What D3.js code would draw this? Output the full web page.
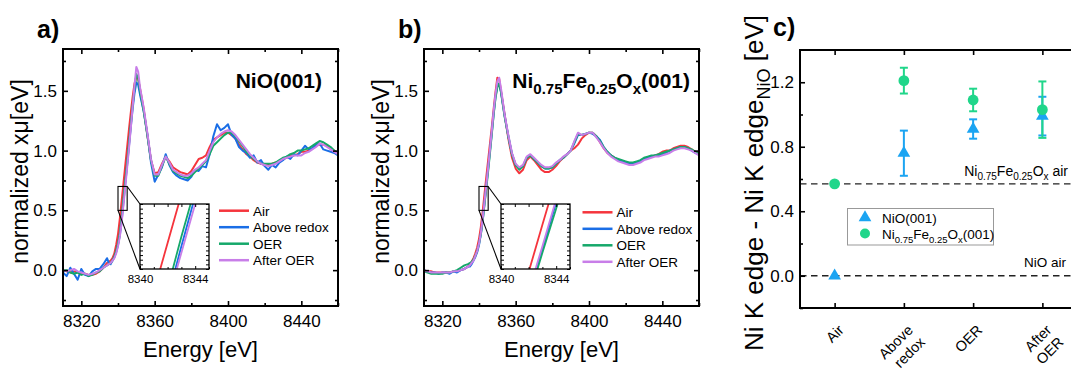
<!DOCTYPE html>
<html>
<head>
<meta charset="utf-8">
<script src="https://cdn.jsdelivr.net/npm/d3@7"></script>
<style>
  body { margin: 0; background: #fff; }
  svg { display: block; }
  text { font-family: "Liberation Sans", Arial, Helvetica, sans-serif; fill: #000; }
</style>
</head>
<body>
<svg id="chart" width="1071" height="368"></svg>
<script>
// ---------- Ni K-edge XANES: shared energy grid (eV) ----------
const energy = [
  8310, 8312, 8314, 8316, 8318, 8320, 8322, 8324, 8326, 8328, 8330, 8332, 8334,
  8335, 8336, 8337, 8338, 8339, 8340, 8341, 8342, 8343, 8344, 8345, 8346, 8347, 8348, 8349, 8350, 8351, 8352,
  8354, 8356, 8358, 8360, 8362, 8364, 8366, 8368, 8370, 8372,
  8374, 8376, 8378, 8380, 8382, 8384, 8386, 8388, 8390, 8392,
  8394, 8396, 8398, 8400, 8402, 8404, 8406, 8408, 8410, 8412,
  8414, 8416, 8418, 8420, 8422, 8424, 8426, 8428, 8430, 8432,
  8434, 8436, 8438, 8440, 8442, 8444, 8446, 8448, 8450, 8452,
  8454, 8456, 8458, 8460
];

const conditionNames = ["Air", "Above redox", "OER", "After OER"];
const conditionColors = ["#f5343c", "#1a6ee6", "#15a86a", "#c87ee8"];

// NiO(001) normalized absorption
const nioAir = [
  0.00, -0.01, -0.02, -0.01, -0.02, -0.03, -0.03, -0.04, -0.04, -0.03, -0.01, 0.02, 0.06,
  0.07, 0.08, 0.10, 0.14, 0.21, 0.30, 0.43, 0.58, 0.73, 0.88, 1.03, 1.18, 1.32, 1.45, 1.56, 1.62, 1.60, 1.52,
  1.35, 1.13, 0.92, 0.81, 0.82, 0.89, 0.95, 0.91, 0.86, 0.84,
  0.82, 0.81, 0.80, 0.83, 0.88, 0.93, 0.94, 0.96, 1.03, 1.09,
  1.11, 1.13, 1.15, 1.15, 1.13, 1.10, 1.05, 1.01, 0.97, 0.95,
  0.92, 0.90, 0.89, 0.88, 0.88, 0.89, 0.90, 0.91, 0.93, 0.94,
  0.96, 0.96, 0.97, 0.99, 0.99, 1.00, 1.02, 1.04, 1.05, 1.05,
  1.04, 1.02, 1.00, 0.97
];
const nioAboveRedox = [
  -0.02, -0.05, 0.02, -0.03, -0.08, 0.01, -0.04, -0.05, -0.01, 0.01, 0.01, 0.05, 0.10,
  0.06, 0.05, 0.08, 0.11, 0.15, 0.21, 0.29, 0.41, 0.57, 0.725, 0.88, 1.04, 1.20, 1.35, 1.48, 1.57, 1.55, 1.47,
  1.33, 1.14, 0.90, 0.74, 0.80, 0.86, 0.97, 0.88, 0.82, 0.79,
  0.77, 0.76, 0.75, 0.78, 0.84, 0.83, 0.87, 0.86, 0.97, 1.12,
  1.22, 1.17, 1.19, 1.22, 1.13, 1.10, 1.03, 1.00, 0.98, 0.94,
  0.96, 0.90, 0.92, 0.87, 0.84, 0.88, 0.86, 0.90, 0.92, 0.95,
  0.93, 0.97, 0.96, 1.00, 1.04, 1.01, 1.02, 1.05, 1.06, 1.01,
  1.00, 0.99, 0.98, 0.96
];
const nioOER = [
  0.00, 0.00, -0.02, -0.03, -0.02, -0.04, -0.03, -0.05, -0.04, -0.02, -0.01, 0.02, 0.04,
  0.05, 0.06, 0.08, 0.11, 0.16, 0.22, 0.31, 0.44, 0.60, 0.75, 0.90, 1.06, 1.22, 1.38, 1.52, 1.64, 1.61, 1.50,
  1.33, 1.13, 0.92, 0.79, 0.79, 0.87, 0.95, 0.89, 0.83, 0.81,
  0.79, 0.78, 0.77, 0.79, 0.82, 0.85, 0.88, 0.91, 0.97, 1.04,
  1.07, 1.10, 1.13, 1.15, 1.15, 1.12, 1.08, 1.04, 0.99, 0.96,
  0.93, 0.91, 0.89, 0.89, 0.89, 0.89, 0.90, 0.92, 0.94, 0.95,
  0.97, 0.98, 1.00, 1.00, 1.01, 1.02, 1.04, 1.06, 1.08, 1.07,
  1.05, 1.03, 1.00, 0.97
];
const nioAfterOER = [
  0.00, -0.01, 0.00, 0.01, -0.01, -0.02, -0.03, -0.04, -0.03, -0.02, 0.00, 0.02, 0.04,
  0.05, 0.06, 0.08, 0.10, 0.14, 0.20, 0.28, 0.40, 0.55, 0.70, 0.86, 1.02, 1.19, 1.37, 1.54, 1.70, 1.66, 1.53,
  1.36, 1.15, 0.93, 0.80, 0.80, 0.88, 0.95, 0.90, 0.84, 0.82,
  0.80, 0.79, 0.79, 0.81, 0.84, 0.86, 0.89, 0.92, 1.00, 1.07,
  1.11, 1.14, 1.16, 1.17, 1.16, 1.13, 1.09, 1.05, 1.01, 0.97,
  0.94, 0.91, 0.89, 0.88, 0.87, 0.88, 0.89, 0.91, 0.93, 0.94,
  0.95, 0.96, 0.96, 0.96, 0.98, 0.99, 1.01, 1.03, 1.06, 1.05,
  1.03, 1.01, 0.99, 0.97
];

// Ni0.75Fe0.25Ox(001) normalized absorption
const nifeAir = [
  0.00, -0.01, -0.01, -0.02, -0.02, -0.02, -0.02, -0.02, -0.01, -0.01, 0.00, 0.01, 0.03,
  0.05, 0.07, 0.10, 0.14, 0.19, 0.26, 0.36, 0.49, 0.636, 0.78, 0.92, 1.06, 1.20, 1.35, 1.49, 1.61, 1.60, 1.50,
  1.30, 1.10, 0.94, 0.85, 0.81, 0.84, 0.92, 0.95, 0.92, 0.88,
  0.84, 0.82, 0.82, 0.84, 0.87, 0.91, 0.94, 0.97, 1.00, 1.02,
  1.05, 1.10, 1.13, 1.15, 1.15, 1.12, 1.07, 1.02, 0.98, 0.96,
  0.94, 0.92, 0.91, 0.90, 0.89, 0.89, 0.90, 0.91, 0.93, 0.94,
  0.95, 0.96, 0.97, 0.99, 1.00, 1.00, 1.02, 1.03, 1.04, 1.04,
  1.03, 1.01, 0.99, 0.98
];
const nifeAboveRedox = [
  0.00, -0.01, -0.02, -0.02, -0.03, -0.02, -0.02, -0.03, -0.01, -0.02, 0.00, 0.01, 0.03,
  0.03, 0.05, 0.08, 0.11, 0.15, 0.21, 0.30, 0.41, 0.56, 0.705, 0.85, 1.00, 1.15, 1.31, 1.45, 1.54, 1.56, 1.49,
  1.29, 1.12, 0.97, 0.88, 0.85, 0.87, 0.94, 0.96, 0.93, 0.90,
  0.87, 0.85, 0.85, 0.86, 0.89, 0.92, 0.94, 0.97, 1.00, 1.06,
  1.13, 1.13, 1.14, 1.15, 1.14, 1.12, 1.09, 1.03, 0.99, 0.96,
  0.94, 0.92, 0.91, 0.90, 0.89, 0.89, 0.90, 0.91, 0.93, 0.94,
  0.95, 0.96, 0.96, 0.97, 0.98, 1.00, 1.01, 1.02, 1.03, 1.03,
  1.02, 1.00, 0.98, 0.97
];
const nifeOER = [
  -0.01, -0.02, -0.03, -0.03, -0.03, -0.03, -0.02, -0.02, -0.01, 0.00, 0.02, 0.04, 0.05,
  0.06, 0.07, 0.09, 0.12, 0.16, 0.22, 0.30, 0.41, 0.55, 0.686, 0.83, 0.98, 1.14, 1.30, 1.44, 1.53, 1.56, 1.49,
  1.28, 1.12, 0.97, 0.88, 0.84, 0.87, 0.94, 0.96, 0.93, 0.90,
  0.87, 0.85, 0.85, 0.86, 0.89, 0.92, 0.94, 0.97, 1.00, 1.07,
  1.14, 1.13, 1.14, 1.15, 1.15, 1.12, 1.08, 1.03, 0.99, 0.96,
  0.94, 0.93, 0.92, 0.91, 0.90, 0.90, 0.91, 0.92, 0.94, 0.95,
  0.96, 0.96, 0.97, 0.98, 0.99, 1.00, 1.01, 1.02, 1.03, 1.03,
  1.02, 1.01, 0.99, 0.97
];
const nifeAfterOER = [
  -0.01, -0.01, -0.02, -0.02, -0.02, -0.02, -0.02, -0.02, -0.01, -0.01, 0.00, 0.01, 0.03,
  0.04, 0.06, 0.08, 0.12, 0.16, 0.22, 0.31, 0.43, 0.57, 0.715, 0.86, 1.01, 1.17, 1.33, 1.47, 1.58, 1.61, 1.52,
  1.30, 1.13, 0.98, 0.89, 0.86, 0.88, 0.95, 0.97, 0.94, 0.91,
  0.88, 0.86, 0.86, 0.87, 0.90, 0.92, 0.95, 0.97, 1.00, 1.08,
  1.15, 1.13, 1.14, 1.15, 1.15, 1.11, 1.07, 1.02, 0.98, 0.95,
  0.93, 0.91, 0.90, 0.89, 0.88, 0.88, 0.89, 0.90, 0.92, 0.93,
  0.94, 0.95, 0.95, 0.96, 0.97, 0.98, 1.00, 1.01, 1.02, 1.02,
  1.01, 1.00, 0.98, 0.96
];

// Axis ticks for the spectra
const energyMajorTicks = [8320, 8360, 8400, 8440];
const energyMinorTicks = [8340, 8380, 8420, 8460];
const muMajorTicks = [0.0, 0.5, 1.0, 1.5];
const muMinorTicks = [-0.25, 0.25, 0.75, 1.25, 1.75];
const insetEnergyLabels = [8340, 8344];

// ---------- Edge shift summary ----------
const conditionLabels = [["Air"], ["Above", "redox"], ["OER"], ["After", "OER"]];
const nioShift = [0.00, 0.76, 0.91, 0.99];
const nioShiftErr = [0.00, 0.14, 0.06, 0.12];
const nifeShift = [0.57, 1.21, 1.09, 1.03];
const nifeShiftErr = [0.00, 0.08, 0.07, 0.175];
const shiftMajorTicks = [0.0, 0.4, 0.8, 1.2];
const shiftMinorTicks = [-0.2, 0.2, 0.6, 1.0];
const nioAirLevel = 0.0;
const nifeAirLevel = 0.57;

const nioColor = "#1ba4f2";
const nifeColor = "#20d68a";

const svg = d3.select("#chart");
const FONT = '"Liberation Sans", Arial, Helvetica, sans-serif';

// Text built from normal / subscript runs
function richText(sel, parts, size, subSize, shift) {
  parts.forEach((p, i) => {
    const prevSub = i > 0 && parts[i - 1].sub;
    let dy = 0;
    if (p.sub && !prevSub) dy = shift;
    if (!p.sub && prevSub) dy = -shift;
    sel.append("tspan")
      .attr("dy", dy)
      .attr("font-size", p.sub ? subSize : size)
      .text(p.t);
  });
  return sel;
}

// ---------- spectra panel ----------
function spectraPanel(opt) {
  const left = opt.left, right = left + 275, top = 49, bottom = 306;
  const x = d3.scaleLinear().domain([8310, 8460]).range([left, right]);
  const y = d3.scaleLinear().domain([-0.3, 1.85]).range([bottom, top]);
  const g = svg.append("g");
  const clipId = "clip-" + opt.id;
  svg.append("clipPath").attr("id", clipId)
    .append("rect").attr("x", left).attr("y", top).attr("width", right - left).attr("height", bottom - top);

  const line = d3.line().x((d, i) => x(energy[i])).y(d => y(d));
  const curves = g.append("g").attr("clip-path", `url(#${clipId})`);
  opt.series.forEach((vals, k) => {
    curves.append("path")
      .attr("d", line(vals))
      .attr("fill", "none")
      .attr("stroke", conditionColors[k])
      .attr("stroke-width", 2)
      .attr("stroke-linejoin", "round");
  });

  // axes (ticks point inward, mirrored on top/right)
  g.append("g").attr("transform", `translate(0,${bottom})`)
    .call(d3.axisBottom(x).tickValues(energyMajorTicks).tickSize(-5).tickPadding(9).tickFormat(d3.format("d")));
  g.append("g").attr("transform", `translate(0,${bottom})`)
    .call(d3.axisBottom(x).tickValues(energyMinorTicks).tickSize(-3).tickFormat(""));
  g.append("g").attr("transform", `translate(0,${top})`)
    .call(d3.axisTop(x).tickValues(energyMajorTicks).tickSize(-5).tickFormat(""));
  g.append("g").attr("transform", `translate(0,${top})`)
    .call(d3.axisTop(x).tickValues(energyMinorTicks).tickSize(-3).tickFormat(""));
  g.append("g").attr("transform", `translate(${left},0)`)
    .call(d3.axisLeft(y).tickValues(muMajorTicks).tickSize(-5).tickPadding(6).tickFormat(d3.format(".1f")));
  g.append("g").attr("transform", `translate(${left},0)`)
    .call(d3.axisLeft(y).tickValues(muMinorTicks).tickSize(-3).tickFormat(""));
  g.append("g").attr("transform", `translate(${right},0)`)
    .call(d3.axisRight(y).tickValues(muMajorTicks).tickSize(-5).tickFormat(""));
  g.append("g").attr("transform", `translate(${right},0)`)
    .call(d3.axisRight(y).tickValues(muMinorTicks).tickSize(-3).tickFormat(""));
  g.selectAll(".domain").remove();
  g.selectAll(".tick line").attr("stroke", "#000").attr("stroke-width", 1.6);
  g.selectAll(".tick text").attr("font-size", 17).attr("font-family", FONT).attr("fill", "#000");

  g.append("rect").attr("x", left).attr("y", top).attr("width", right - left).attr("height", bottom - top)
    .attr("fill", "none").attr("stroke", "#000").attr("stroke-width", 2);

  // axis titles
  g.append("text").attr("x", (left + right) / 2).attr("y", 357).attr("text-anchor", "middle")
    .attr("font-size", 22).text("Energy [eV]");
  g.append("text").attr("transform", `translate(${left - 35},${(top + bottom) / 2 - 6}) rotate(-90)`)
    .attr("text-anchor", "middle").attr("font-size", 23).text("normalized xμ[eV]");

  // panel letter & sample name
  g.append("text").attr("x", left - 26).attr("y", 38).attr("font-size", 25).attr("font-weight", "bold").text(opt.letter);
  richText(g.append("text").attr("x", opt.titleRight).attr("y", 88).attr("text-anchor", "end")
    .attr("font-weight", "bold"), opt.title, 21, 15, 6);

  // zoom window on the absorption edge
  const ix0 = left + 77, iw = 69, iy0 = 204, ih = 65;
  const xi = d3.scaleLinear().domain([8340, 8345]).range([ix0, ix0 + iw]);
  const yi = d3.scaleLinear().domain([0.5, 0.7]).range([iy0 + ih, iy0]);
  g.append("rect").attr("x", x(8340)).attr("y", y(0.7)).attr("width", x(8345) - x(8340)).attr("height", y(0.5) - y(0.7))
    .attr("fill", "none").attr("stroke", "#000").attr("stroke-width", 1.1);
  g.append("line").attr("x1", x(8345)).attr("y1", y(0.7)).attr("x2", ix0).attr("y2", iy0)
    .attr("stroke", "#000").attr("stroke-width", 1.1);
  g.append("line").attr("x1", x(8340)).attr("y1", y(0.5)).attr("x2", ix0).attr("y2", iy0 + ih)
    .attr("stroke", "#000").attr("stroke-width", 1.1);
  g.append("rect").attr("x", ix0).attr("y", iy0).attr("width", iw).attr("height", ih).attr("fill", "#fff");
  const iclip = "iclip-" + opt.id;
  svg.append("clipPath").attr("id", iclip)
    .append("rect").attr("x", ix0).attr("y", iy0).attr("width", iw).attr("height", ih);
  const iline = d3.line().x((d, i) => xi(energy[i])).y(d => yi(d));
  const icurves = g.append("g").attr("clip-path", `url(#${iclip})`);
  opt.series.forEach((vals, k) => {
    icurves.append("path").attr("d", iline(vals)).attr("fill", "none")
      .attr("stroke", conditionColors[k]).attr("stroke-width", 1.8);
  });
  const ig = g.append("g");
  ig.append("g").attr("transform", `translate(0,${iy0 + ih})`)
    .call(d3.axisBottom(xi).tickValues(insetEnergyLabels).tickSize(-3).tickPadding(6).tickFormat(d3.format("d")));
  ig.append("g").attr("transform", `translate(0,${iy0 + ih})`)
    .call(d3.axisBottom(xi).tickValues([8341, 8342, 8343, 8345]).tickSize(-2).tickFormat(""));
  ig.append("g").attr("transform", `translate(0,${iy0})`)
    .call(d3.axisTop(xi).tickValues([8341, 8342, 8343, 8344]).tickSize(-3).tickFormat(""));
  const yTicksInset = d3.range(0, 15).map(i => 0.5 + i * 0.2 / 14);
  ig.append("g").attr("transform", `translate(${ix0},0)`)
    .call(d3.axisLeft(yi).tickValues(yTicksInset).tickSize(-3).tickFormat(""));
  ig.append("g").attr("transform", `translate(${ix0 + iw},0)`)
    .call(d3.axisRight(yi).tickValues(yTicksInset).tickSize(-3).tickFormat(""));
  ig.selectAll(".domain").remove();
  ig.selectAll(".tick line").attr("stroke", "#000").attr("stroke-width", 1);
  ig.selectAll(".tick text").attr("font-size", 11.5).attr("font-family", FONT).attr("fill", "#000");
  g.append("rect").attr("x", ix0).attr("y", iy0).attr("width", iw).attr("height", ih)
    .attr("fill", "none").attr("stroke", "#000").attr("stroke-width", 1.3);

  // legend
  conditionNames.forEach((name, k) => {
    const ly = opt.legendTop + k * 16.5;
    g.append("line").attr("x1", left + opt.legendX).attr("x2", left + opt.legendX + 30)
      .attr("y1", ly).attr("y2", ly).attr("stroke", conditionColors[k]).attr("stroke-width", 2.5);
    g.append("text").attr("x", left + opt.legendX + 34).attr("y", ly + 5).attr("font-size", 13.5).text(name);
  });
}

spectraPanel({
  id: "a", left: 63, letter: "a)", titleRight: 322, legendX: 156, legendTop: 210.7,
  title: [{ t: "NiO(001)" }],
  series: [nioAir, nioAboveRedox, nioOER, nioAfterOER]
});
spectraPanel({
  id: "b", left: 424, letter: "b)", titleRight: 690, legendX: 158.5, legendTop: 212.3,
  title: [{ t: "Ni" }, { t: "0.75", sub: true }, { t: "Fe" }, { t: "0.25", sub: true }, { t: "O" }, { t: "x", sub: true }, { t: "(001)" }],
  series: [nifeAir, nifeAboveRedox, nifeOER, nifeAfterOER]
});

// ---------- edge shift panel ----------
(function shiftPanel() {
  const left = 800, right = 1077, top = 50, bottom = 308;
  const x = d3.scaleLinear().domain([0.5, 4.5]).range([left, right]);
  const y = d3.scaleLinear().domain([-0.2, 1.4]).range([bottom, top]);
  const g = svg.append("g");
  const pos = conditionNames.map((d, i) => i + 1);

  // reference levels
  [nioAirLevel, nifeAirLevel].forEach(v => {
    g.append("line").attr("x1", left).attr("x2", 1071).attr("y1", y(v)).attr("y2", y(v))
      .attr("stroke", "#222").attr("stroke-width", 1.4).attr("stroke-dasharray", "6.5,4.5");
  });
  richText(g.append("text").attr("x", 1068).attr("y", y(nifeAirLevel) - 8).attr("text-anchor", "end"),
    [{ t: "Ni" }, { t: "0.75", sub: true }, { t: "Fe" }, { t: "0.25", sub: true }, { t: "O" }, { t: "x", sub: true }, { t: " air" }],
    14, 10, 4);
  g.append("text").attr("x", 1066).attr("y", y(nioAirLevel) - 9).attr("text-anchor", "end")
    .attr("font-size", 13.5).text("NiO air");

  // axes
  g.append("g").attr("transform", `translate(0,${bottom})`)
    .call(d3.axisBottom(x).tickValues(pos).tickSize(-5).tickFormat(""));
  g.append("g").attr("transform", `translate(0,${top})`)
    .call(d3.axisTop(x).tickValues(pos).tickSize(-5).tickFormat(""));
  g.append("g").attr("transform", `translate(${left},0)`)
    .call(d3.axisLeft(y).tickValues(shiftMajorTicks).tickSize(-5).tickPadding(6).tickFormat(d3.format(".1f")));
  g.append("g").attr("transform", `translate(${left},0)`)
    .call(d3.axisLeft(y).tickValues(shiftMinorTicks).tickSize(-3).tickFormat(""));
  g.selectAll(".domain").remove();
  g.selectAll(".tick line").attr("stroke", "#000").attr("stroke-width", 1.6);
  g.selectAll(".tick text").attr("font-size", 17).attr("font-family", FONT).attr("fill", "#000");
  g.append("path").attr("d", `M${1071},${top}H${left}V${bottom}H${1071}`)
    .attr("fill", "none").attr("stroke", "#000").attr("stroke-width", 2);

  // rotated category labels (second line continues below the first)
  conditionLabels.forEach((lines, i) => {
    const t = g.append("g").attr("transform", `translate(${x(i + 1) + 10},${bottom + 23}) rotate(-45)`);
    lines.forEach((s, j) => {
      t.append("text").attr("x", 0).attr("y", j * 17)
        .attr("text-anchor", "end").attr("font-size", 14.5).text(s);
    });
  });

  // error bars
  function errorBars(vals, errs, color) {
    vals.forEach((v, i) => {
      if (!errs[i]) return;
      const cx = x(i + 1);
      g.append("line").attr("x1", cx).attr("x2", cx).attr("y1", y(v - errs[i])).attr("y2", y(v + errs[i]))
        .attr("stroke", color).attr("stroke-width", 2);
      [v - errs[i], v + errs[i]].forEach(e => {
        g.append("line").attr("x1", cx - 4).attr("x2", cx + 4).attr("y1", y(e)).attr("y2", y(e))
          .attr("stroke", color).attr("stroke-width", 2);
      });
    });
  }
  errorBars(nioShift, nioShiftErr, nioColor);
  errorBars(nifeShift, nifeShiftErr, nifeColor);
  const tri = d3.symbol(d3.symbolTriangle).size(70);
  nioShift.forEach((v, i) => {
    g.append("path").attr("d", tri()).attr("transform", `translate(${x(i + 1)},${y(v)})`).attr("fill", nioColor);
  });
  nifeShift.forEach((v, i) => {
    g.append("circle").attr("cx", x(i + 1)).attr("cy", y(v)).attr("r", 5.4).attr("fill", nifeColor);
  });

  // legend
  g.append("rect").attr("x", 847.5).attr("y", 208.5).attr("width", 146).attr("height", 36.5)
    .attr("fill", "none").attr("stroke", "#999").attr("stroke-width", 1);
  g.append("path").attr("d", tri()).attr("transform", "translate(865,217.5)").attr("fill", nioColor);
  g.append("circle").attr("cx", 865).attr("cy", 233.5).attr("r", 5).attr("fill", nifeColor);
  g.append("text").attr("x", 882).attr("y", 222.5).attr("font-size", 13.5).text("NiO(001)");
  richText(g.append("text").attr("x", 882).attr("y", 238.5),
    [{ t: "Ni" }, { t: "0.75", sub: true }, { t: "Fe" }, { t: "0.25", sub: true }, { t: "O" }, { t: "x", sub: true }, { t: "(001)" }],
    13.5, 9.5, 4);

  // axis title and panel letter
  richText(g.append("text").attr("transform", `translate(763,183) rotate(-90)`)
    .attr("text-anchor", "middle"),
    [{ t: "Ni K edge - Ni K edge" }, { t: "NiO", sub: true }, { t: " [eV]" }], 26, 18, 7);
  g.append("text").attr("x", 773).attr("y", 36).attr("font-size", 25).attr("font-weight", "bold").text("c)");
})();
</script>
</body>
</html>
